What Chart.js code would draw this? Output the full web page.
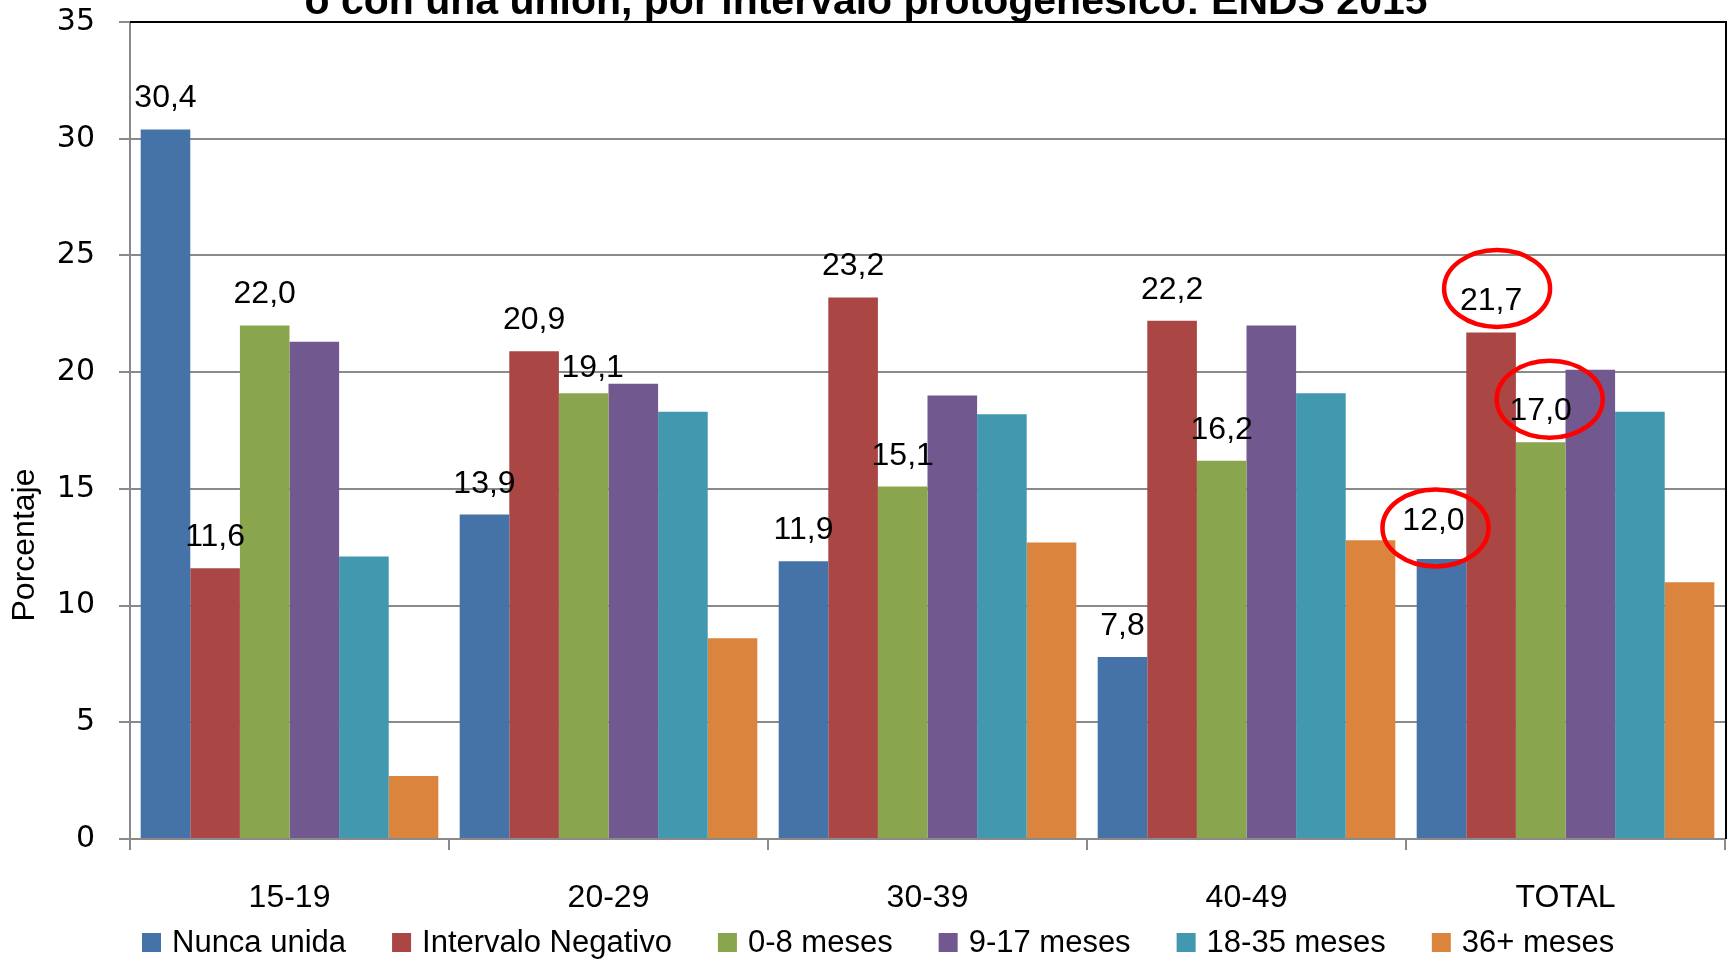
<!DOCTYPE html>
<html>
<head>
<meta charset="utf-8">
<script src="https://cdn.jsdelivr.net/npm/chart.js@4/dist/chart.umd.min.js"></script>
<style>
html,body{margin:0;padding:0;background:#fff;overflow:hidden;}
canvas{display:block;}
</style>
</head>
<body>
<canvas id="c" width="1731" height="959"></canvas>
<script>
// ---- data ----
const titleText = 'o con una unión, por intervalo protogenésico: ENDS 2015';
const yAxisTitle = 'Porcentaje';
const categories = ['15-19', '20-29', '30-39', '40-49', 'TOTAL'];
const seriesNames = ['Nunca unida', 'Intervalo Negativo', '0-8 meses', '9-17 meses', '18-35 meses', '36+ meses'];
const nuncaUnida        = [30.4, 13.9, 11.9, 7.8, 12.0];
const intervaloNegativo = [11.6, 20.9, 23.2, 22.2, 21.7];
const meses0a8          = [22.0, 19.1, 15.1, 16.2, 17.0];
const meses9a17         = [21.3, 19.5, 19.0, 22.0, 20.1];
const meses18a35        = [12.1, 18.3, 18.2, 19.1, 18.3];
const meses36mas        = [2.7, 8.6, 12.7, 12.8, 11.0];
const yTicks = [0, 5, 10, 15, 20, 25, 30, 35];
const labeledSeries = [0, 1, 2];           // series that carry value labels
const highlighted = [[1, 4], [2, 4], [0, 4]]; // [series, category] circled in red

// ---- styles ----
const colors = ['#4572A7', '#AA4643', '#89A54E', '#71588F', '#4198AF', '#DB843D'];
const gridGray = '#8a8a8a';
const labelNudge = { '2,1': [9, -6], '0,4': [-8, 7] }; // [dx, dy-up] tweaks of some labels
const ellipseNudge = { '1,4': [6, 44], '2,4': [9, 43], '0,4': [-6, 31] };

const seriesValues = [nuncaUnida, intervaloNegativo, meses0a8, meses9a17, meses18a35, meses36mas];

const fmt = v => v.toFixed(1).replace('.', ',');

const decorPlugin = {
  id: 'decor',
  afterDatasetsDraw(chart) {
    const ctx = chart.ctx;
    const ca = chart.chartArea;
    ctx.save();
    // frame: top and right in black
    ctx.strokeStyle = '#000';
    ctx.lineWidth = 2;
    ctx.beginPath();
    ctx.moveTo(ca.left, ca.top);
    ctx.lineTo(ca.right + 1, ca.top);
    ctx.lineTo(ca.right + 1, ca.bottom);
    ctx.stroke();

    // value labels
    ctx.fillStyle = '#000';
    ctx.font = '32px "Liberation Sans", Arial, sans-serif';
    ctx.textAlign = 'center';
    ctx.textBaseline = 'alphabetic';
    labeledSeries.forEach(si => {
      const meta = chart.getDatasetMeta(si);
      meta.data.forEach((el, ci) => {
        const n = labelNudge[si + ',' + ci] || [0, 0];
        ctx.fillText(fmt(seriesValues[si][ci]), el.x + n[0], el.y - 22 - n[1]);
      });
    });

    // red ellipses
    ctx.strokeStyle = '#ff0000';
    ctx.lineWidth = 4.5;
    highlighted.forEach(([si, ci]) => {
      const el = chart.getDatasetMeta(si).data[ci];
      const n = ellipseNudge[si + ',' + ci] || [0, 40];
      ctx.beginPath();
      ctx.ellipse(el.x + n[0], el.y - n[1], 53, 38.5, 0, 0, Math.PI * 2);
      ctx.stroke();
    });

    // title (partially cut at top)
    ctx.fillStyle = '#000';
    ctx.font = 'bold 41px "Liberation Sans", Arial, sans-serif';
    ctx.textAlign = 'center';
    ctx.fillText(titleText, 866, 14);

    // y axis title
    ctx.save();
    ctx.translate(25, 545);
    ctx.rotate(-Math.PI / 2);
    ctx.font = '32px "Liberation Sans", Arial, sans-serif';
    ctx.textAlign = 'center';
    ctx.textBaseline = 'middle';
    ctx.fillText(yAxisTitle, 0, 0);
    ctx.restore();

    // legend
    ctx.font = '31px "Liberation Sans", Arial, sans-serif';
    ctx.textAlign = 'left';
    ctx.textBaseline = 'alphabetic';
    let x = 142;
    chart.data.datasets.forEach(ds => {
      ctx.fillStyle = ds.backgroundColor;
      ctx.fillRect(x, 933, 19, 19);
      ctx.fillStyle = '#000';
      ctx.fillText(ds.label, x + 30, 952);
      x += 30 + ctx.measureText(ds.label).width + 46;
    });
    ctx.restore();
  }
};

new Chart(document.getElementById('c'), {
  type: 'bar',
  data: {
    labels: categories,
    datasets: seriesNames.map((name, i) => ({
      label: name,
      data: seriesValues[i],
      backgroundColor: colors[i],
      borderWidth: 0,
      categoryPercentage: 0.933,
      barPercentage: 1.0
    }))
  },
  options: {
    responsive: false,
    animation: false,
    devicePixelRatio: 1,
    layout: { padding: { top: 22, left: 0, right: 6, bottom: 0 } },
    plugins: {
      legend: { display: false },
      title: { display: false },
      tooltip: { enabled: false }
    },
    scales: {
      x: {
        afterFit: s => { s.height = 120; s.paddingLeft = 0; s.paddingRight = 0; },
        grid: { offset: true, drawOnChartArea: false, drawTicks: true, tickLength: 11, color: gridGray, lineWidth: 2 },
        border: { display: true, color: gridGray, width: 2 },
        ticks: { color: '#000', font: { family: '"Liberation Sans", Arial, sans-serif', size: 32 }, padding: 29, maxRotation: 0 }
      },
      y: {
        min: 0,
        max: 35,
        afterBuildTicks: axis => { axis.ticks = yTicks.map(v => ({ value: v })); },
        afterFit: s => { s.width = 130; s.paddingTop = 0; s.paddingBottom = 0; },
        grid: { color: gridGray, lineWidth: 2, drawTicks: true, tickLength: 11 },
        border: { display: true, color: gridGray, width: 2 },
        ticks: { color: '#000', font: { family: '"DejaVu Sans", Verdana, sans-serif', size: 30 }, padding: 24 }
      }
    }
  },
  plugins: [decorPlugin]
});
</script>
</body>
</html>
